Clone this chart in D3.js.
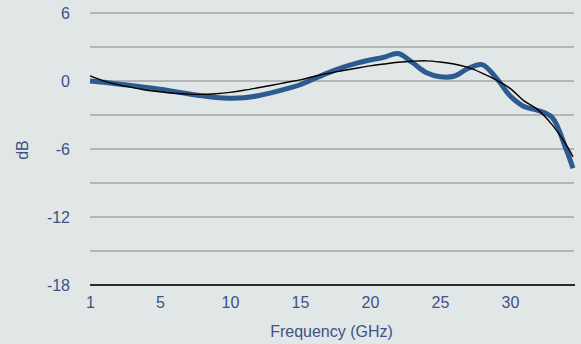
<!DOCTYPE html>
<html>
<head>
<meta charset="utf-8">
<script src="https://cdn.jsdelivr.net/npm/d3@7"></script>
<style>
  html, body { margin: 0; padding: 0; background: #e1e6e6; }
  svg { display: block; }
  text { font-family: "Liberation Sans", Arial, Helvetica, sans-serif; fill: #3e5188; }
</style>
</head>
<body>
<svg id="chart" width="581" height="344"></svg>
<script>
// Frequency points (GHz)
const freq = [1,2,3,4,5,6,7,8,9,10,11,12,13,14,15,16,17,18,19,20,21,22,23,24,25,26,27,28,29,30,31,32,33,34,34.5];
// Measured response (dB)
const measured = [0.0,-0.15,-0.33,-0.52,-0.72,-0.92,-1.12,-1.3,-1.45,-1.52,-1.48,-1.3,-1.03,-0.7,-0.33,0.2,0.72,1.18,1.55,1.85,2.1,2.42,1.65,0.75,0.38,0.42,1.1,1.45,0.3,-1.3,-2.25,-2.6,-3.2,-6.0,-7.7];
// Fitted trend (dB)
const trend = [0.45,-0.1,-0.45,-0.75,-0.95,-1.08,-1.16,-1.18,-1.12,-1.0,-0.82,-0.6,-0.37,-0.13,0.1,0.4,0.67,0.9,1.12,1.33,1.5,1.65,1.74,1.78,1.68,1.5,1.2,0.7,0.1,-0.65,-1.75,-2.55,-3.85,-5.6,-6.7];
// Axis ticks
const xTicks = [1,5,10,15,20,25,30];
const yTicks = [6,0,-6,-12,-18];
const yGrid = [6,3,0,-3,-6,-9,-12,-15];

const svg = d3.select("#chart");
const plotLeft = 90, plotRight = 573, plotTop = 13, plotBottom = 285;
const fontSize = 16;

// The frequency labels sit at equal spacing, so the first interval is stretched
const x = d3.scaleLinear().domain([1, 5, 34.5]).range([plotLeft, 160, plotRight]);
const y = d3.scaleLinear().domain([-18, 6]).range([plotBottom, plotTop]);

// Horizontal gridlines
svg.append("g").selectAll("line").data(yGrid).join("line")
  .attr("x1", plotLeft).attr("x2", plotRight + 1)
  .attr("y1", d => y(d)).attr("y2", d => y(d))
  .attr("stroke", "#a3a5a6").attr("stroke-width", 1.3);

// Baseline
svg.append("line")
  .attr("x1", plotLeft).attr("x2", plotRight + 2)
  .attr("y1", y(-18)).attr("y2", y(-18))
  .attr("stroke", "#2b2b2b").attr("stroke-width", 2);

// Y axis labels (plain hyphen for negatives)
const yAxis = d3.axisLeft(y).tickValues(yTicks).tickSize(0).tickPadding(0)
  .tickFormat(d => String(d));
svg.append("g").attr("transform", `translate(${70},0)`).call(yAxis)
  .call(g => g.select(".domain").remove())
  .selectAll("text").attr("font-size", fontSize).attr("dy", "0.35em").attr("fill", "#3e5188")
  .style("font-family", "'Liberation Sans', Arial, sans-serif");

// X axis labels
const xAxis = d3.axisBottom(x).tickValues(xTicks).tickSize(0).tickPadding(0)
  .tickFormat(d => String(d));
svg.append("g").attr("transform", `translate(0,${297})`).call(xAxis)
  .call(g => g.select(".domain").remove())
  .selectAll("text").attr("font-size", fontSize).attr("dy", "0.71em").attr("fill", "#3e5188")
  .style("font-family", "'Liberation Sans', Arial, sans-serif");

// Axis titles
svg.append("text").attr("x", (plotLeft + plotRight) / 2).attr("y", 337)
  .attr("text-anchor", "middle").attr("font-size", fontSize).text("Frequency (GHz)");
svg.append("text").attr("transform", `translate(28,150) rotate(-90)`)
  .attr("text-anchor", "middle").attr("font-size", fontSize).text("dB");

const line = d3.line().curve(d3.curveCatmullRom.alpha(0.5))
  .x((d, i) => x(freq[i])).y(d => y(d));

// Measured response
svg.append("path").datum(measured).attr("d", line)
  .attr("fill", "none").attr("stroke", "#2e5b8f").attr("stroke-width", 5)
  .attr("stroke-linejoin", "round");

// Trend line
svg.append("path").datum(trend).attr("d", line)
  .attr("fill", "none").attr("stroke", "#000").attr("stroke-width", 1.4);
</script>
</body>
</html>
